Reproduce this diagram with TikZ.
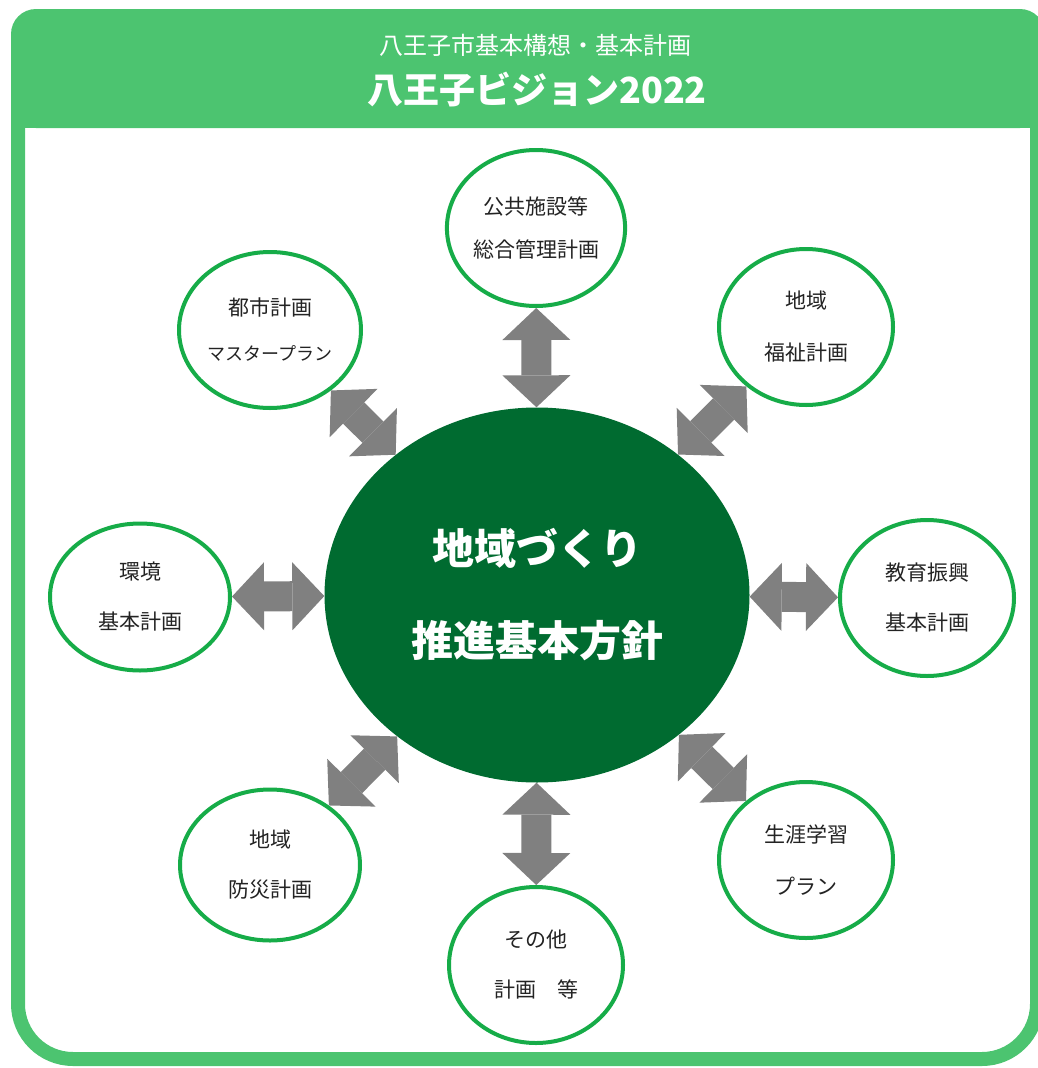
\documentclass[tikz,border=0pt]{standalone}
\usepackage{fontspec}
\setmainfont{Noto Sans CJK JP}
\usetikzlibrary{shapes.geometric,arrows.meta}

\definecolor{headgreen}{RGB}{76,196,112}
\definecolor{ringgreen}{RGB}{22,172,72}
\definecolor{hubgreen}{RGB}{0,107,48}
\definecolor{arrowgray}{RGB}{128,128,128}
\definecolor{plantext}{RGB}{35,35,35}

\tikzset{
	plan/.style={ellipse, draw=ringgreen, line width=4pt, fill=white,
		minimum width=174pt, minimum height=156pt, inner sep=0pt,
		align=center, text=plantext, font=\fontsize{21}{50}\selectfont},
	mainplan/.style={ellipse, fill=hubgreen, minimum width=425pt, minimum height=375pt,
		inner sep=0pt, align=center, text=white, font=\bfseries\fontsize{42}{92}\selectfont},
	link/.style={draw=arrowgray, line width=30pt,
		>={Triangle[width=68pt,length=32pt,line width=0pt]}, <->}
}

\begin{document}
\begin{tikzpicture}[x=1pt, y=-1pt]
	
	\useasboundingbox (0,0) rectangle (1038,1068);
	
	%% FRAME
	% Border
	\draw [headgreen, line width=14pt, rounded corners=55pt] (18,60) rectangle (1037,1059);
	
	% Header
	\fill [headgreen, rounded corners=25pt] (11,9) rectangle (1045,128);
	\fill [headgreen] (11,88) rectangle (1045,128);
	
	\node [text=white, font=\fontsize{24}{24}\selectfont] (subtitle) at (535,45) {八王子市基本構想・基本計画};
	\node [text=white, font=\bfseries\fontsize{36}{36}\selectfont] (title) at (537,90) {八王子ビジョン2022};
	
	
	%% PLANS
	% Centre
	\node [mainplan] (hub) at (537,595) {地域づくり\\推進基本方針};
	
	% Around
	\node [plan] (pubfac) at (536,228) {公共施設等\\[-7pt]総合管理計画};
	\node [plan, minimum width=182pt] (urban) at (270,330) {都市計画\\[-5pt]\fontsize{18}{50}\selectfont マスタープラン};
	\node [plan] (welfare) at (806,327) {地域\\[2pt]福祉計画};
	\node [plan, minimum width=180pt, minimum height=147pt] (environ) at (140,597) {環境\\基本計画};
	\node [plan] (educ) at (927,598) {教育振興\\基本計画};
	\node [plan, minimum width=180pt, minimum height=151pt] (disaster) at (270,865) {地域\\防災計画};
	\node [plan] (others) at (536,965) {その他\\計画\quad 等};
	\node [plan] (lifelong) at (806,860) {生涯学習\\[2pt]プラン};
	
	
	%% ARROWS
	\foreach \p in {pubfac, urban, welfare, environ, educ, disaster, others, lifelong}
	{
		\draw [link] (\p) -- (hub);
	}
	
\end{tikzpicture}
\end{document}
